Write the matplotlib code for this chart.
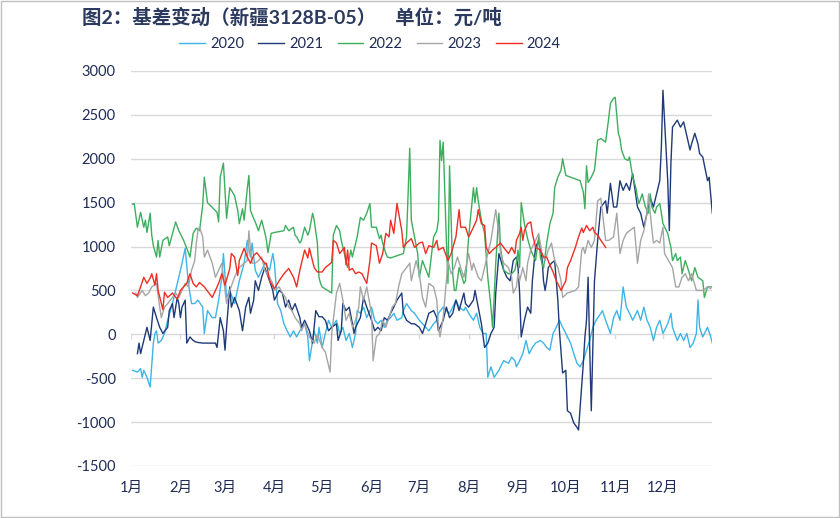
import matplotlib
matplotlib.use("Agg")
import matplotlib.pyplot as plt
from matplotlib.patches import Rectangle

plt.rcParams['font.family'] = ['Lato', 'Noto Sans CJK SC', 'DejaVu Sans']

title = "图2：基差变动（新疆3128B-05）    单位：元/吨"
month_labels = ["1月", "2月", "3月", "4月", "5月", "6月", "7月", "8月", "9月", "10月", "11月", "12月"]
month_start_days = [0, 31, 59, 90, 120, 151, 181, 212, 243, 273, 304, 334]
years = ["2020", "2021", "2022", "2023", "2024"]
colors = ["#3DB5E6", "#1F3A78", "#3DAE5E", "#A5A5A5", "#EE2E24"]

# ---- 2020 ----
d2020 = [1, 4, 6, 7, 8, 10, 12, 14, 15, 16, 17, 19, 21, 23, 26, 28, 30, 32, 34, 36, 38, 40, 42, 45, 46, 48,
         51, 53, 55, 57, 58, 60, 62, 65, 68, 71, 73, 75, 76, 78, 80, 82, 84, 87, 89, 90, 92, 94, 96, 98, 100,
         102, 104, 106, 109, 111, 112, 115, 117, 118, 120, 122, 124, 126, 129, 131, 133, 135, 137, 139, 141,
         142, 144, 146, 148, 151, 153, 155, 157, 159, 161, 163, 165, 167, 170, 171, 173, 176, 178, 181, 183,
         185, 187, 190, 192, 193, 196, 198, 200, 202, 204, 206, 209, 210, 212, 215, 217, 219, 221, 223, 224,
         226, 228, 231, 232, 234, 237, 239, 241, 242, 244, 246, 248, 250, 252, 254, 257, 259, 261, 263, 265,
         267, 269, 271, 273, 276, 278, 280, 282, 284, 286, 288, 290, 292, 295, 296, 298, 301, 303, 305, 307,
         309, 311, 313, 315, 318, 320, 322, 324, 326, 328, 330, 332, 334, 337, 339, 340, 343, 345, 347, 349,
         351, 353, 355, 356, 357, 359, 362, 364, 365]
v2020 = [-410, -430, -390, -490, -410, -490, -600, -100, 10, 40, -100, -70, 10, 160, 350, 500, 650, 810, 980,
         580, 350, 350, 390, 310, 10, 270, 190, 190, 390, 650, 920, 420, 500, 350, 610, 810, 1070, 880, 1040,
         730, 650, 730, 810, 730, 920, 810, 350, 270, 120, 40, -30, 40, -30, 40, 120, -30, -300, 40, -100, 80,
         -150, 10, 160, 80, 160, 10, 80, -70, 10, -150, 10, 270, 240, 310, 190, 310, 160, 120, 160, 80, 160,
         190, 240, 160, 190, 270, 350, 270, 240, 160, 120, 80, 40, 120, 160, 240, 310, 270, 240, 310, 390, 310,
         270, 310, 240, 160, 240, 80, 10, 10, -490, -370, -490, -410, -370, -300, -330, -260, -300, -370, -300,
         -220, -70, -220, -150, -100, -70, -100, -150, -180, 10, 80, 160, 80, 10, -100, -220, -330, -370, -300,
         -180, -70, 80, 160, 240, 270, 160, 10, 190, 270, 160, 540, 310, 240, 160, 270, 160, 310, 160, 80, -70,
         80, 160, 10, 120, 240, 80, -70, 10, -70, 10, -150, -100, 10, 390, 80, -30, 80, -30, -100]

# ---- 2021 ----
d2021 = [4, 5, 6, 8, 10, 12, 14, 16, 18, 20, 23, 24, 26, 27, 29, 30, 31, 32, 34, 35, 37, 39, 41, 45, 48, 53,
         54, 56, 58, 59, 60, 62, 63, 65, 68, 70, 72, 74, 75, 77, 78, 80, 82, 84, 87, 89, 90, 93, 95, 97, 99,
         101, 103, 106, 107, 109, 112, 114, 116, 118, 120, 122, 124, 126, 129, 130, 132, 133, 135, 137, 139,
         140, 141, 144, 146, 148, 151, 153, 155, 157, 159, 161, 163, 165, 167, 170, 171, 173, 176, 178, 181,
         183, 185, 187, 190, 192, 193, 196, 198, 200, 202, 204, 206, 209, 210, 212, 215, 216, 218, 220, 222,
         224, 226, 228, 229, 231, 234, 236, 238, 240, 242, 243, 244, 245, 247, 249, 251, 252, 254, 256, 258,
         259, 260, 261, 262, 264, 266, 267, 268, 269, 271, 273, 274, 276, 278, 280, 281, 282, 284, 285, 286,
         287, 288, 289, 290, 291, 293, 295, 298, 299, 301, 303, 305, 307, 309, 311, 313, 315, 318, 320, 322,
         324, 326, 328, 330, 332, 333, 334, 337, 338, 339, 340, 343, 345, 347, 351, 352, 354, 356, 357, 359,
         362, 363, 365]
v2021 = [-220, -100, -220, -70, 80, -70, 310, 190, 80, 10, 80, 270, 350, 190, 420, 350, 190, 310, 390, -100,
         -30, -70, -90, -100, -100, -100, -150, 190, 40, -180, 80, 540, 310, 420, 270, 40, 310, 420, 240, 390,
         610, 500, 650, 760, 610, 500, 390, 500, 470, 310, 390, 270, 350, 190, 80, 160, 40, -100, 270, 200,
         200, 160, 40, 80, 120, -70, 40, 350, 270, 310, 120, 10, 80, 190, 420, 310, 160, 40, 80, 40, 190, 160,
         240, 310, 390, 470, 240, 160, 120, 120, 80, 10, 120, 240, 270, 190, 40, 160, 310, 190, 240, 390, 270,
         470, 350, 310, 390, 500, 310, 120, -150, -100, 10, 80, 470, 920, 730, 650, 610, 840, 880, 760, 470,
         -30, 160, 310, 240, 610, 990, 1070, 880, 610, 500, 610, 760, 810, 840, 610, 390, 40, -440, -410, -870,
         -900, -1010, -1060, -1090, -830, -330, -30, 160, 650, -150, -870, -150, 610, 1070, 1450, 1520, 1380,
         1720, 1450, 1450, 1750, 1640, 1720, 1640, 1830, 1450, 1380, 1220, 1380, 1560, 1450, 1600, 1750, 2130,
         2780, 1750, 1180, 1950, 2360, 2440, 2360, 2420, 2100, 2170, 2290, 2170, 2060, 2020, 1750, 1790, 1380]

# ---- 2022 ----
d2022 = [1, 2, 4, 6, 8, 9, 10, 12, 13, 14, 16, 17, 18, 20, 23, 24, 28, 30, 33, 35, 37, 39, 41, 43, 45, 46, 48,
         54, 55, 56, 58, 60, 62, 65, 67, 68, 70, 71, 73, 74, 75, 77, 78, 80, 82, 84, 85, 86, 88, 90, 96, 97,
         99, 102, 103, 104, 106, 107, 109, 111, 112, 114, 115, 117, 118, 119, 120, 126, 127, 129, 131, 132, 135,
         136, 138, 139, 140, 142, 144, 146, 148, 150, 151, 154, 156, 157, 158, 160, 161, 163, 171, 173, 175,
         176, 178, 180, 181, 183, 187, 190, 192, 193, 194, 195, 196, 198, 199, 200, 202, 203, 204, 206, 209,
         210, 212, 214, 215, 216, 217, 218, 220, 222, 224, 226, 227, 228, 229, 231, 232, 234, 237, 239, 241,
         242, 243, 244, 245, 247, 249, 251, 254, 256, 257, 259, 261, 263, 265, 266, 268, 270, 271, 273, 276,
         282, 284, 285, 286, 287, 289, 291, 293, 295, 298, 300, 301, 303, 304, 306, 307, 308, 310, 312, 313,
         315, 317, 318, 319, 321, 322, 323, 325, 326, 327, 329, 330, 332, 333, 334, 337, 339, 340, 342, 343,
         345, 346, 348, 350, 352, 354, 356, 359, 360, 362, 365]
v2022 = [1480, 1490, 1220, 1390, 1220, 1300, 1160, 1380, 1130, 1010, 880, 1070, 880, 1070, 1110, 1010, 1280,
         1180, 1070, 980, 880, 1150, 1210, 1180, 1470, 1790, 1500, 1390, 1280, 1790, 1950, 1320, 1670, 1580,
         1410, 1260, 1430, 1300, 1660, 1810, 1410, 1320, 1280, 1180, 1300, 1160, 1070, 930, 1150, 1160, 1180,
         1240, 1180, 1220, 1130, 1110, 1040, 1070, 1220, 1130, 1180, 1380, 1300, 1040, 650, 580, 540, 470, 1130,
         1240, 1180, 1070, 840, 760, 960, 880, 960, 1110, 1330, 1300, 1380, 1490, 1220, 1220, 1090, 1130, 1040,
         920, 880, 870, 920, 1110, 2120, 1300, 1110, 920, 650, 840, 650, 1110, 1180, 1300, 2210, 1980, 2190,
         1070, 580, 1920, 690, 500, 500, 760, 580, 610, 1110, 1490, 1670, 1500, 1670, 1520, 1300, 1150, 650,
         310, 80, 420, 810, 1380, 990, 730, 690, 690, 730, 820, 960, 760, 1500, 1260, 1090, 960, 840, 1110, 880,
         750, 1040, 1260, 1380, 1670, 1790, 1870, 2000, 1810, 1790, 1750, 1620, 1430, 1920, 1730, 1790, 1870,
         2210, 2230, 2190, 2470, 2630, 2690, 2700, 2290, 2230, 2100, 2000, 1980, 2020, 1790, 1670, 1560, 1490,
         1600, 1520, 1450, 1380, 1600, 1450, 1380, 1450, 1490, 1380, 1260, 1150, 990, 840, 920, 840, 880, 690,
         840, 730, 610, 760, 650, 610, 420, 540, 540]

# ---- 2023 ----
d2023 = [3, 4, 7, 9, 11, 13, 16, 18, 19, 21, 23, 26, 28, 30, 32, 34, 36, 38, 40, 41, 42, 43, 45, 46, 48, 51,
         53, 55, 57, 60, 62, 65, 67, 68, 71, 73, 74, 75, 76, 78, 80, 82, 84, 87, 89, 90, 93, 95, 97, 99, 101,
         103, 106, 107, 109, 112, 115, 117, 120, 122, 125, 126, 129, 131, 133, 135, 137, 139, 141, 143, 144,
         146, 148, 151, 152, 154, 156, 158, 160, 162, 164, 166, 168, 170, 173, 175, 176, 179, 181, 183, 185,
         187, 190, 192, 193, 194, 196, 198, 199, 201, 203, 205, 207, 209, 212, 214, 215, 218, 220, 222, 224,
         226, 228, 229, 231, 232, 234, 237, 239, 240, 242, 243, 244, 246, 248, 249, 251, 254, 256, 258, 260,
         262, 264, 266, 268, 270, 271, 274, 279, 281, 283, 284, 285, 287, 289, 291, 293, 295, 298, 300, 303,
         305, 307, 309, 311, 313, 316, 318, 320, 322, 324, 325, 326, 328, 330, 332, 334, 335, 340, 342, 344,
         346, 348, 350, 352, 355, 359, 362, 364]
v2023 = [470, 420, 500, 440, 470, 540, 580, 310, 190, 310, 350, 420, 470, 420, 500, 580, 540, 730, 840, 1040,
         1180, 1220, 1110, 880, 960, 810, 650, 730, 810, 350, 500, 650, 730, 760, 810, 840, 1180, 960, 810,
         810, 840, 880, 730, 650, 580, 500, 540, 470, 420, 310, 270, 190, 120, 40, 120, -30, -100, 0, -150,
         -200, -430, 10, 470, 580, 390, 160, 240, 80, 160, 310, 540, 390, 540, 240, -300, -30, 10, 160, 80, 190,
         310, 350, 540, 690, 760, 810, 610, 840, 690, 420, 310, 580, 540, 390, 80, -30, 190, 610, 840, 690, 760,
         880, 760, 650, 920, 730, 810, 650, 610, 760, 920, 1070, 1300, 1420, 1150, 920, 810, 760, 650, 470,
         540, 690, 610, 760, 610, 810, 960, 1070, 1150, 920, 840, 960, 1040, 840, 760, 610, 420, 470, 500, 540,
         960, 990, 920, 1070, 990, 1070, 1520, 1550, 1070, 1070, 1110, 1380, 920, 1070, 1150, 1180, 1220, 810,
         1070, 1180, 1380, 1600, 1380, 1040, 1070, 1040, 1220, 920, 760, 540, 540, 650, 690, 610, 690, 500,
         500, 540, 520]

# ---- 2024 ----
d2024 = [1, 4, 6, 8, 10, 12, 13, 15, 16, 17, 20, 21, 23, 26, 29, 31, 33, 35, 37, 39, 41, 43, 46, 51, 53, 55,
         57, 59, 62, 63, 65, 67, 68, 71, 73, 75, 77, 79, 81, 84, 85, 87, 90, 93, 96, 99, 102, 104, 106, 109,
         111, 112, 115, 117, 120, 122, 126, 127, 129, 131, 134, 135, 136, 137, 139, 141, 143, 145, 148, 150,
         151, 154, 156, 158, 160, 162, 163, 165, 167, 170, 171, 173, 176, 178, 181, 183, 185, 187, 190, 192,
         193, 196, 199, 201, 204, 206, 207, 210, 212, 215, 217, 218, 220, 222, 223, 225, 227, 229, 232, 234,
         237, 239, 241, 242, 244, 245, 246, 247, 248, 249, 251, 252, 254, 257, 259, 261, 263, 265, 267, 269,
         270, 273, 274, 276, 279, 281, 283, 284, 286, 288, 290, 291, 293, 295, 298]
v2024 = [470, 440, 540, 650, 580, 640, 690, 560, 690, 500, 280, 480, 420, 470, 400, 500, 540, 580, 690, 580,
         540, 590, 540, 420, 500, 580, 690, 560, 750, 920, 880, 670, 840, 980, 880, 810, 900, 930, 880, 810,
         810, 610, 520, 610, 690, 750, 650, 540, 730, 960, 870, 980, 760, 710, 710, 760, 820, 1070, 1040, 920,
         990, 790, 960, 730, 750, 690, 710, 690, 580, 840, 1040, 1010, 810, 920, 1150, 1110, 1300, 1150, 1490,
         1180, 990, 1040, 1090, 990, 1040, 1050, 920, 1010, 990, 1070, 960, 990, 840, 920, 1110, 1420, 1220,
         1220, 1110, 1220, 1300, 1420, 1260, 1240, 990, 920, 960, 990, 1040, 990, 920, 990, 920, 1070, 1150,
         1220, 1070, 1180, 1220, 1260, 1280, 1150, 990, 960, 880, 880, 790, 710, 610, 540, 500, 610, 760, 840,
         990, 1110, 1210, 1160, 1240, 1180, 1220, 1160, 1130, 1070, 990]

days = [d2020, d2021, d2022, d2023, d2024]
vals = [v2020, v2021, v2022, v2023, v2024]

text_color = "#1F2D55"

fig = plt.figure(figsize=(8.4, 5.18), dpi=100)
ax = fig.add_axes([0.156, 0.1004, 0.692, 0.7626])

for y in range(-1500, 3001, 500):
    ax.axhline(y, color="#D9D9D9", lw=1.0, zorder=0)

for name, dd, vv, c in zip(years, days, vals, colors):
    ax.plot(dd, vv, color=c, lw=1.0, label=name, zorder=2)

ax.set_xlim(0, 365)
ax.set_ylim(-1500, 3000)
ax.set_yticks(range(-1500, 3001, 500))
ax.set_yticklabels([str(v) for v in range(-1500, 3001, 500)])
ax.set_xticks(month_start_days)
ax.set_xticklabels(month_labels)
ax.tick_params(axis='both', length=0, labelcolor=text_color, labelsize=10.5)
ax.tick_params(axis='y', pad=11)
ax.tick_params(axis='x', pad=11)
for s in ax.spines.values():
    s.set_visible(False)

# zero axis tick marks
for m in month_start_days:
    ax.plot([m, m], [0, -45], color="#D9D9D9", lw=1.0, zorder=1)

fig.text(82 / 840, 1 - 17 / 518, title, fontsize=14, fontweight='bold', color="#2B3A5E",
         ha='left', va='center')

leg = fig.legend(loc='center', bbox_to_anchor=(370 / 840, 1 - 44 / 518), ncol=5, frameon=False,
                 fontsize=10.5, handlelength=1.75, handletextpad=0.35, columnspacing=1.0)
for t in leg.get_texts():
    t.set_color(text_color)

fig.patches.append(Rectangle((0.001, 0.001), 0.998, 0.998, transform=fig.transFigure,
                             fill=False, edgecolor="#BFBFBF", lw=1.0))

fig.savefig("out.png", dpi=100)
